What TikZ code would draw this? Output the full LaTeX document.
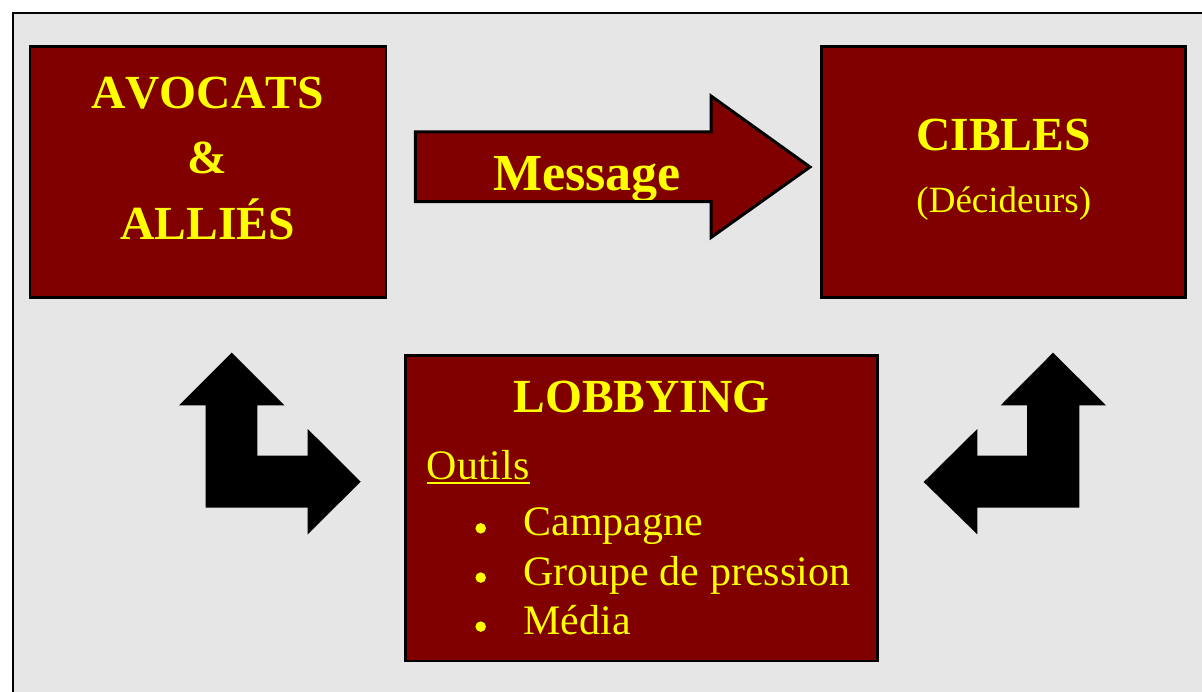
\documentclass[tikz,border=0pt]{standalone}
\usepackage{fontspec}
\setmainfont{Liberation Serif}[Kerning=Off]
\definecolor{boxred}{HTML}{800000}
\definecolor{txtyellow}{HTML}{FFFF00}
\definecolor{bggray}{HTML}{E6E6E6}
\tikzset{
  redbox/.style={draw=black, line width=2.5pt, fill=boxred},
  bigbold/.style={text=txtyellow, inner sep=0pt, anchor=base, font=\bfseries\fontsize{47.5}{57}\selectfont},
  plaintxt/.style={text=txtyellow, inner sep=0pt, font=\fontsize{42}{50}\selectfont},
  lstitem/.style={plaintxt, anchor=base west},
  bulletdot/.style={circle, fill=txtyellow, inner sep=0pt, minimum size=10.5pt},
  larrow/.style={fill=black, draw=none}
}
\begin{document}
\begin{tikzpicture}[x=1pt,y=-1pt]
\useasboundingbox (0,0) rectangle (1202,692);
\fill[white] (0,0) rectangle (1202,692);
% outer frame
\draw[line width=2pt, fill=bggray] (12.7,13.3) rectangle (1230,720);

% boxes
\path[redbox] (30,46.7) rectangle (386,297.7);
\node[inner sep=0pt, minimum width=356pt, minimum height=251pt] (avocats) at (208,172.2) {};
\path[redbox] (821.7,46.7) rectangle (1185.3,297.7);
\node[inner sep=0pt, minimum width=363.6pt, minimum height=251pt] (cibles) at (1003.5,172.2) {};
\path[redbox] (405.7,355.7) rectangle (877.3,661);
\node[inner sep=0pt, minimum width=471.6pt, minimum height=305.3pt] (lobby) at (641.5,508.35) {};

% texts AVOCATS
\node[bigbold] (t1) at (207.5,109) {AVOCATS};
\node[bigbold] (t2) at (207.7,173.3) {\&};
\node[bigbold] (t3) at (207.5,240) {ALLIÉS};
% CIBLES
\node[bigbold] (c1) at (1003.5,150.7) {CIBLES};
\node[text=txtyellow, inner sep=0pt, anchor=base, font=\fontsize{37}{44}\selectfont] (c2) at (1003.8,212.7) {(Décideurs)};
% LOBBYING
\node[bigbold] (l1) at (641.4,412.3) {LOBBYING};
\node[lstitem] (outils) at (426.7,479.3) {Outils};
\draw[txtyellow, line width=1.6pt] ([yshift=-3.6pt]outils.base west) -- ([yshift=-3.6pt]outils.base east);
\node[bulletdot] (b1) at (480.7,528.3) {};
\node[bulletdot] (b2) at (480.7,577.6) {};
\node[bulletdot] (b3) at (480.7,626.6) {};
\node[lstitem] (i1) at (523.3,535.7) {Campagne};
\node[lstitem] (i2) at (523.3,585) {Groupe de pression};
\node[lstitem] (i3) at (523.3,634) {Média};

% Message arrow
\fill[boxred] (415.3,132) -- (711,132) -- (711,96) -- (810,167) -- (711,237.5) -- (711,201.7) -- (415.3,201.7) -- cycle;
\begin{scope}
\clip (415.3,132) rectangle (711,200.5);
\node[text=txtyellow, inner sep=0pt, anchor=base, font=\bfseries\fontsize{52}{60}\selectfont] (msg) at (587,190.7) {Message};
\end{scope}
\draw[line width=3pt, line join=miter] (415.3,132) -- (711,132) -- (711,96) -- (810,167) -- (711,237.5) -- (711,201.7) -- (415.3,201.7) -- cycle;

% left L-arrow
\path[larrow] (231.7,352.7) -- (284.3,405.3) -- (257.3,405.3) -- (257.3,455.7) -- (307.7,455.7) -- (307.7,429) -- (360.7,481.7) -- (307.7,534.3) -- (307.7,507.7) -- (205.7,507.7) -- (205.7,405.3) -- (179,405.3) -- cycle;
% right L-arrow
\path[larrow] (1053,352.7) -- (1106,405.3) -- (1079.3,405.3) -- (1079.3,507.7) -- (977.3,507.7) -- (977.3,534.3) -- (923.7,482) -- (977.3,429) -- (977.3,455.7) -- (1027,455.7) -- (1027,405.3) -- (1000.7,405.3) -- cycle;
\end{tikzpicture}
\end{document}
